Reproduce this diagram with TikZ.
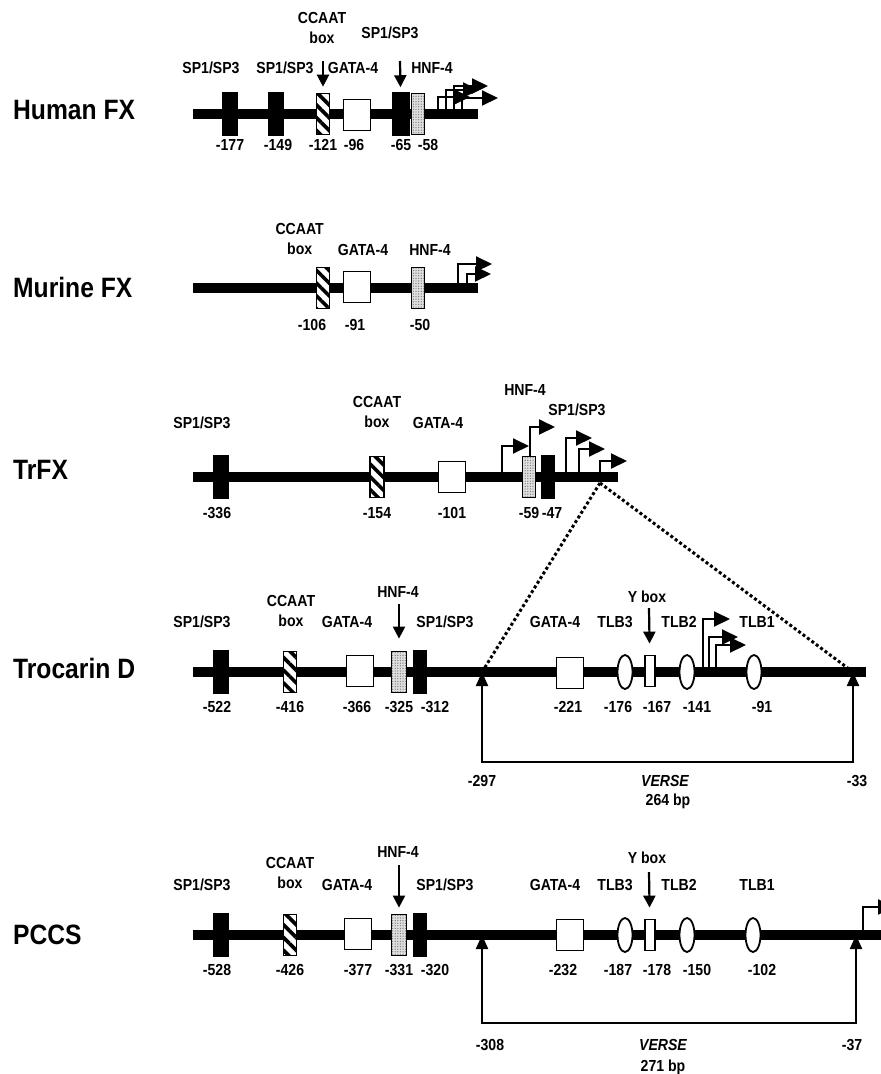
\documentclass[tikz,border=0pt]{standalone}
\usepackage{fontspec}
\setmainfont{Liberation Sans}[FakeStretch=0.88]
\usetikzlibrary{positioning,arrows.meta,shapes.geometric,patterns.meta}

\begin{document}
\begin{tikzpicture}[x=1pt,y=-1pt,
    lab/.style={font=\bfseries\fontsize{16}{20}\selectfont,inner sep=0pt,align=center},
    num/.style={lab,node distance=#1},
    gene/.style={font=\bfseries\fontsize{28}{30}\selectfont,inner sep=0pt,anchor=west},
    dna/.style={line width=10.5pt},
    sp/.style={draw,fill=black,line width=1.5pt,inner sep=0pt,minimum width=15pt,minimum height=42pt},
    ccaat/.style={draw,line width=1.8pt,inner sep=0pt,preaction={fill=white},
      pattern={Lines[angle=-45,distance=9pt,line width=3.6pt]},minimum width=13pt,minimum height=41pt},
    hnf/.style={draw,line width=1.8pt,inner sep=0pt,preaction={fill=gray!25},
      pattern={Dots[distance=2.6pt,radius=0.7pt]},pattern color=gray,minimum width=13pt,minimum height=41pt},
    gata/.style={draw,fill=white,line width=1.8pt,inner sep=0pt,minimum width=27pt,minimum height=31pt},
    tlb/.style={ellipse,draw,fill=white,line width=1.8pt,inner sep=0pt,minimum width=15pt,minimum height=34pt},
    ybox/.style={draw,fill=white,line width=1.8pt,inner sep=0pt,minimum width=10pt,minimum height=31pt},
    tfarr/.style={-{Triangle[length=12pt,width=12pt]},line width=2.2pt},
    prom/.style={-{Triangle[length=16pt,width=15pt]},line width=2pt},
    verse/.style={{Triangle[length=14pt,width=12pt]}-{Triangle[length=14pt,width=12pt]},line width=2.2pt},
    zoomline/.style={line width=3pt,dash pattern=on 3pt off 2.5pt}]

  \useasboundingbox (0,0) rectangle (881,1074);

  \node[gene] (human) at (13,110) {Human FX};
  \node[gene] (murine) at (13,287) {Murine FX};
  \node[gene] (trfx) at (13,470) {TrFX};
  \node[gene] (troc) at (13,668) {Trocarin D};
  \node[gene] (pccs) at (13,935) {PCCS};

  \coordinate (ha) at (193,114);
  \coordinate (hb) at (478,114);
  \draw[dna] (ha) -- (hb);
  \coordinate (hp1) at (438,114);
  \coordinate (hp2) at (446,114);
  \coordinate (hp3) at (454,114);
  \coordinate (hp4) at (462,114);
  \draw[prom] (hp1) -- ++(0,-17) -- ++(32,0);
  \draw[prom] (hp2) -- ++(0,-24) -- ++(33,0);
  \draw[prom] (hp3) -- ++(0,-28) -- ++(34,0);
  \draw[prom] (hp4) -- ++(0,-16) -- ++(36,0);
  \node[sp] (h1) at (230,114) {};
  \node[sp] (h2) at (276,114) {};
  \node[ccaat] (h3) at (323,114) {};
  \node[gata] (h4) at (357,115) {};
  \node[sp,minimum width=16pt] (h5) at (401,114) {};
  \node[hnf] (h6) at (418,114) {};
  \node[lab] (hl1) at (211,68) {SP1/SP3};
  \node[lab] (hl2) at (285,68) {SP1/SP3};
  \node[lab] (hl3) at (322,28) {CCAAT\\box};
  \node[lab] (hl4) at (353,68) {GATA-4};
  \node[lab] (hl5) at (390,33) {SP1/SP3};
  \node[lab] (hl6) at (432,68) {HNF-4};
  \coordinate (ht3) at (323,61);
  \coordinate (ht5) at (400,61);
  \draw[tfarr,shorten >=5pt] (ht3) -- (h3);
  \draw[tfarr,shorten >=5pt] (ht5) -- (h5);
  \node[num=31pt,below of=h1] (hn1) {-177};
  \node[num=31pt,below of=h2,xshift=2pt] (hn2) {-149};
  \node[num=31pt,below of=h3] (hn3) {-121};
  \node[num=30pt,below of=h4,xshift=-3pt] (hn4) {-96};
  \node[num=31pt,below of=h5] (hn5) {-65};
  \node[num=31pt,below of=h6,xshift=10pt] (hn6) {-58};

  \coordinate (ma) at (193,288);
  \coordinate (mb) at (478,288);
  \draw[dna] (ma) -- (mb);
  \coordinate (mp1) at (458,288);
  \coordinate (mp2) at (467,288);
  \draw[prom] (mp1) -- ++(0,-24) -- ++(34,0);
  \draw[prom] (mp2) -- ++(0,-14) -- ++(24,0);
  \node[ccaat] (m1) at (323,288) {};
  \node[gata] (m2) at (357,287) {};
  \node[hnf] (m3) at (418,288) {};
  \node[lab,anchor=east] (ml1) at (324,239) {CCAAT\\box};
  \node[lab] (ml2) at (363,250) {GATA-4};
  \node[lab] (ml3) at (430,250) {HNF-4};
  \node[num=37pt,below of=m1,xshift=-11pt] (mn1) {-106};
  \node[num=38pt,below of=m2,xshift=-2pt] (mn2) {-91};
  \node[num=37pt,below of=m3,xshift=2pt] (mn3) {-50};

  \coordinate (tz) at (600,483);
  \coordinate (d297) at (482,672);
  \coordinate (d33) at (853,672);
  \draw[zoomline] (tz) -- (d297);
  \draw[zoomline] (tz) -- (d33);

  \coordinate (ta) at (193,477);
  \coordinate (tb) at (618,477);
  \draw[dna] (ta) -- (tb);
  \coordinate (tp1) at (502,477);
  \coordinate (tp2) at (530,477);
  \coordinate (tp3) at (566,477);
  \coordinate (tp4) at (579,477);
  \coordinate (tp5) at (600,477);
  \draw[prom] (tp1) -- ++(0,-31) -- ++(27,0);
  \draw[prom] (tp2) -- ++(0,-50) -- ++(25,0);
  \draw[prom] (tp3) -- ++(0,-39) -- ++(26,0);
  \draw[prom] (tp4) -- ++(0,-28) -- ++(26,0);
  \draw[prom] (tp5) -- ++(0,-16) -- ++(27,0);
  \node[sp] (t1) at (221,477) {};
  \node[ccaat,minimum width=14pt] (t2) at (377,477) {};
  \node[gata] (t3) at (452,477) {};
  \node[hnf] (t4) at (529,477) {};
  \node[sp,minimum width=13pt] (t5) at (548,477) {};
  \node[lab] (tl1) at (202,423) {SP1/SP3};
  \node[lab] (tl2) at (377,412) {CCAAT\\box};
  \node[lab] (tl3) at (438,423) {GATA-4};
  \node[lab] (tl4) at (525,390) {HNF-4};
  \node[lab] (tl5) at (577,410) {SP1/SP3};
  \node[num=36pt,below of=t1,xshift=-4pt] (tn1) {-336};
  \node[num=36pt,below of=t2] (tn2) {-154};
  \node[num=36pt,below of=t3] (tn3) {-101};
  \node[num=36pt,below of=t4] (tn4) {-59};
  \node[num=36pt,below of=t5,xshift=4pt] (tn5) {-47};

  \coordinate (da) at (193,672);
  \coordinate (db) at (866,672);
  \draw[dna] (da) -- (db);
  \coordinate (dp1) at (703,672);
  \coordinate (dp2) at (709,672);
  \coordinate (dp3) at (716,672);
  \draw[prom] (dp1) -- ++(0,-53) -- ++(27,0);
  \draw[prom] (dp2) -- ++(0,-35) -- ++(29,0);
  \draw[prom] (dp3) -- ++(0,-27) -- ++(30,0);
  \node[sp] (d1) at (221,672) {};
  \node[ccaat] (d2) at (290,672) {};
  \node[gata] (d3) at (360,671) {};
  \node[hnf,minimum width=15pt] (d4) at (399,672) {};
  \node[sp,minimum width=12pt] (d5) at (420,672) {};
  \node[gata] (d6) at (570,673) {};
  \node[tlb] (d7) at (625,672) {};
  \node[ybox] (d8) at (650,671) {};
  \node[tlb] (d9) at (687,672) {};
  \node[tlb] (d10) at (754,672) {};
  \node[lab] (dl1) at (202,622) {SP1/SP3};
  \node[lab] (dl2) at (291,611) {CCAAT\\box};
  \node[lab] (dl3) at (347,622) {GATA-4};
  \node[lab] (dl4) at (398,592) {HNF-4};
  \node[lab] (dl5) at (445,622) {SP1/SP3};
  \node[lab] (dl6) at (555,622) {GATA-4};
  \node[lab] (dl7) at (615,622) {TLB3};
  \node[lab] (dl8) at (647,597) {Y box};
  \node[lab] (dl9) at (679,622) {TLB2};
  \node[lab] (dl10) at (757,622) {TLB1};
  \coordinate (dt4) at (399,604);
  \coordinate (dt8) at (649,608);
  \draw[tfarr,shorten >=12pt] (dt4) -- (d4);
  \draw[tfarr,shorten >=11pt] (dt8) -- (d8);
  \node[num=35pt,below of=d1,xshift=-4pt] (dn1) {-522};
  \node[num=35pt,below of=d2] (dn2) {-416};
  \node[num=36pt,below of=d3,xshift=-3pt] (dn3) {-366};
  \node[num=35pt,below of=d4] (dn4) {-325};
  \node[num=35pt,below of=d5,xshift=15pt] (dn5) {-312};
  \node[num=34pt,below of=d6,xshift=-2pt] (dn6) {-221};
  \node[num=35pt,below of=d7,xshift=-7pt] (dn7) {-176};
  \node[num=36pt,below of=d8,xshift=7pt] (dn8) {-167};
  \node[num=35pt,below of=d9,xshift=10pt] (dn9) {-141};
  \node[num=35pt,below of=d10,xshift=8pt] (dn10) {-91};
  \draw[verse] (d297) -- ++(0,90) -| (d33);
  \node[lab] (dv1) at (482,781) {-297};
  \node[lab,font=\bfseries\itshape\fontsize{16}{20}\selectfont] (dv2) at (665,781) {VERSE};
  \node[lab] (dv3) at (668,801) {264 bp};
  \node[lab] (dv4) at (857,781) {-33};

  \coordinate (pa) at (193,935);
  \coordinate (pb) at (890,935);
  \draw[dna] (pa) -- (pb);
  \coordinate (pp1) at (863,935);
  \draw[prom] (pp1) -- ++(0,-28) -- ++(31,0);
  \node[sp] (p1) at (221,935) {};
  \node[ccaat] (p2) at (290,935) {};
  \node[gata] (p3) at (358,934) {};
  \node[hnf,minimum width=15pt] (p4) at (399,935) {};
  \node[sp,minimum width=12pt] (p5) at (420,935) {};
  \node[gata] (p6) at (570,935) {};
  \node[tlb] (p7) at (625,935) {};
  \node[ybox] (p8) at (650,935) {};
  \node[tlb] (p9) at (687,935) {};
  \node[tlb] (p10) at (753,935) {};
  \node[lab] (pl1) at (202,885) {SP1/SP3};
  \node[lab] (pl2) at (290,873) {CCAAT\\box};
  \node[lab] (pl3) at (347,885) {GATA-4};
  \node[lab] (pl4) at (398,852) {HNF-4};
  \node[lab] (pl5) at (445,885) {SP1/SP3};
  \node[lab] (pl6) at (555,885) {GATA-4};
  \node[lab] (pl7) at (615,885) {TLB3};
  \node[lab] (pl8) at (647,858) {Y box};
  \node[lab] (pl9) at (679,885) {TLB2};
  \node[lab] (pl10) at (757,885) {TLB1};
  \coordinate (pt4) at (399,865);
  \coordinate (pt8) at (649,872);
  \draw[tfarr,shorten >=6pt] (pt4) -- (p4);
  \draw[tfarr,shorten >=11pt] (pt8) -- (p8);
  \node[num=35pt,below of=p1,xshift=-4pt] (pn1) {-528};
  \node[num=35pt,below of=p2] (pn2) {-426};
  \node[num=36pt,below of=p3] (pn3) {-377};
  \node[num=35pt,below of=p4] (pn4) {-331};
  \node[num=35pt,below of=p5,xshift=15pt] (pn5) {-320};
  \node[num=35pt,below of=p6,xshift=-7pt] (pn6) {-232};
  \node[num=35pt,below of=p7,xshift=-7pt] (pn7) {-187};
  \node[num=35pt,below of=p8,xshift=7pt] (pn8) {-178};
  \node[num=35pt,below of=p9,xshift=10pt] (pn9) {-150};
  \node[num=35pt,below of=p10,xshift=9pt] (pn10) {-102};
  \coordinate (p308) at (482,935);
  \coordinate (p37) at (856,935);
  \draw[verse] (p308) -- ++(0,88) -| (p37);
  \node[lab] (pv1) at (490,1045) {-308};
  \node[lab,font=\bfseries\itshape\fontsize{16}{20}\selectfont] (pv2) at (663,1045) {VERSE};
  \node[lab] (pv3) at (663,1067) {271 bp};
  \node[lab] (pv4) at (852,1045) {-37};
\end{tikzpicture}
\end{document}
